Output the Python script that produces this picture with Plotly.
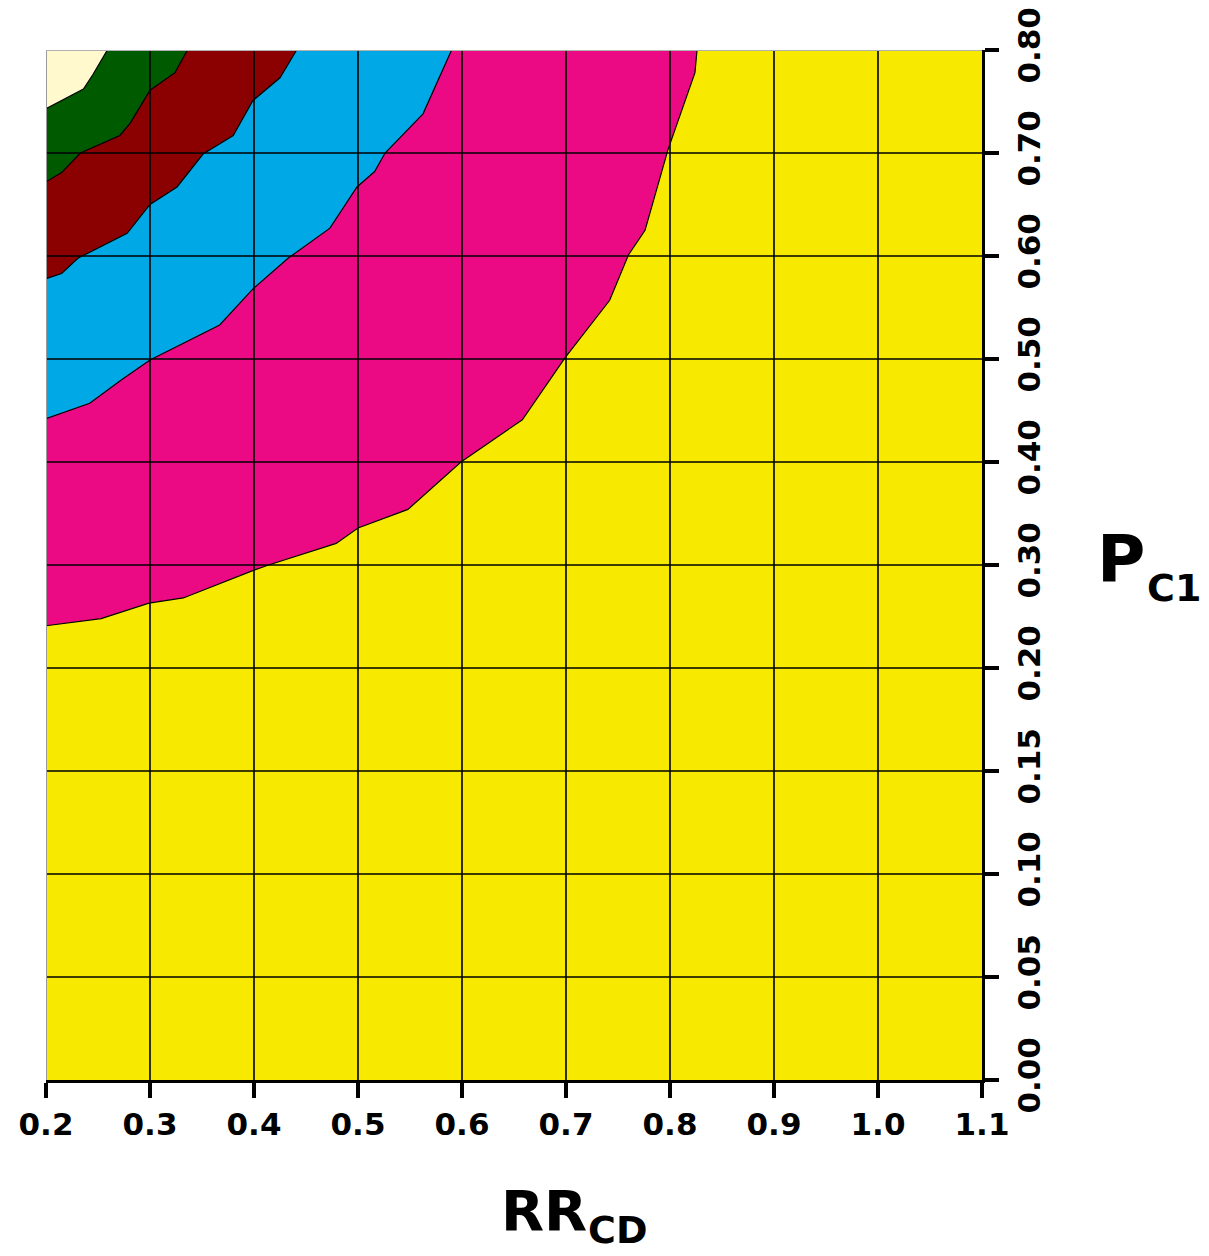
import numpy as np
import plotly.graph_objects as go

# Axis definitions
rr_ticks = [0.2, 0.3, 0.4, 0.5, 0.6, 0.7, 0.8, 0.9, 1.0, 1.1]
rr_labels = ["0.2", "0.3", "0.4", "0.5", "0.6", "0.7", "0.8", "0.9", "1.0", "1.1"]
p_ticks = [0.00, 0.05, 0.10, 0.15, 0.20, 0.30, 0.40, 0.50, 0.60, 0.70, 0.80]
p_labels = ["0.00", "0.05", "0.10", "0.15", "0.20", "0.30", "0.40", "0.50", "0.60", "0.70", "0.80"]

# Region boundaries (RR_CD, P_C1), from the lowest band upward
rr_b1 = [0.200, 0.253, 0.299, 0.332, 0.400, 0.414, 0.479, 0.500, 0.548, 0.599,
         0.658, 0.699, 0.742, 0.760, 0.776, 0.798, 0.824, 0.826]
p_b1 = [0.241, 0.248, 0.263, 0.268, 0.295, 0.300, 0.321, 0.336, 0.354, 0.400,
        0.441, 0.501, 0.557, 0.601, 0.625, 0.703, 0.778, 0.800]

rr_b2 = [0.200, 0.242, 0.273, 0.300, 0.367, 0.399, 0.433, 0.473, 0.499, 0.516,
         0.526, 0.5625, 0.590]
p_b2 = [0.442, 0.457, 0.480, 0.499, 0.533, 0.568, 0.598, 0.627, 0.667, 0.682,
        0.700, 0.738, 0.800]

rr_b3 = [0.200, 0.215, 0.231, 0.278, 0.300, 0.326, 0.351, 0.380, 0.399, 0.425, 0.441]
p_b3 = [0.578, 0.583, 0.598, 0.622, 0.650, 0.667, 0.699, 0.717, 0.751, 0.773, 0.800]

rr_b4 = [0.200, 0.215, 0.233, 0.271, 0.281, 0.300, 0.324, 0.336]
p_b4 = [0.672, 0.681, 0.700, 0.717, 0.729, 0.761, 0.778, 0.800]

rr_b5 = [0.200, 0.236, 0.245, 0.259]
p_b5 = [0.743, 0.762, 0.776, 0.800]

base_color = "#F8E900"
band_colors = ["#EC0A84", "#00A8E6", "#8B0000", "#005A00", "#FFF9CD"]

# The P_C1 axis is evenly spaced by tick, so map values onto tick positions
p_pos = np.arange(len(p_ticks), dtype=float)


def to_pos(p):
    return np.interp(p, p_ticks, p_pos)


boundaries = [(rr_b1, p_b1), (rr_b2, p_b2), (rr_b3, p_b3), (rr_b4, p_b4), (rr_b5, p_b5)]

fig = go.Figure()
top = p_pos[-1]
left = rr_ticks[0]

# Filled bands: each band covers everything above its boundary toward the top-left corner
for (xs, ps), col in zip(boundaries, band_colors):
    ys = list(to_pos(ps))
    fx = list(xs) + [left, left]
    fy = ys + [top, ys[0]]
    fig.add_trace(go.Scatter(x=fx, y=fy, mode="lines", fill="toself",
                             fillcolor=col, line=dict(width=0, color=col),
                             hoverinfo="skip", showlegend=False))

# Contour outlines
for xs, ps in boundaries:
    fig.add_trace(go.Scatter(x=xs, y=to_pos(ps), mode="lines",
                             line=dict(color="black", width=1.2),
                             hoverinfo="skip", showlegend=False))

shapes = []
# Grid drawn over the filled bands
for xv in rr_ticks[1:-1]:
    shapes.append(dict(type="line", xref="x", yref="y", x0=xv, x1=xv, y0=0, y1=top,
                       line=dict(color="black", width=1.6), layer="above"))
for yv in p_pos[1:-1]:
    shapes.append(dict(type="line", xref="x", yref="y", x0=rr_ticks[0], x1=rr_ticks[-1],
                       y0=yv, y1=yv, line=dict(color="black", width=1.6), layer="above"))
# Light frame on the left and top edges
shapes.append(dict(type="line", xref="x", yref="y", x0=left, x1=left, y0=0, y1=top,
                   line=dict(color="#9a9a9a", width=2), layer="above"))
shapes.append(dict(type="line", xref="x", yref="y", x0=left, x1=rr_ticks[-1], y0=top, y1=top,
                   line=dict(color="#b0b0b0", width=2), layer="above"))

font_family = "'DejaVu Sans', sans-serif"


def label(text, x, y, size, xanchor):
    return dict(text=text, xref="paper", yref="paper", x=x, y=y,
                xanchor=xanchor, yanchor="middle", showarrow=False, borderpad=0,
                font=dict(family=font_family, size=size, color="black", weight="bold"))


fig.update_layout(
    width=1209, height=1256,
    margin=dict(l=46, r=227, t=50, b=176, autoexpand=False),
    paper_bgcolor="white",
    plot_bgcolor=base_color,
    shapes=shapes,
    xaxis=dict(range=[rr_ticks[0], rr_ticks[-1]], tickvals=rr_ticks, ticktext=rr_labels,
               showgrid=False, zeroline=False, showline=True, linecolor="black", linewidth=3,
               ticks="outside", ticklen=15, tickwidth=4, tickcolor="black",
               tickfont=dict(family=font_family, size=31, color="black", weight="bold"),
               layer="above traces", automargin=False),
    yaxis=dict(range=[0, top], tickvals=list(p_pos), ticktext=p_labels, side="right",
               showgrid=False, zeroline=False, showline=True, linecolor="black", linewidth=3,
               ticks="outside", ticklen=14, tickwidth=4, tickcolor="black", tickangle=-90,
               ticklabelstandoff=4,
               tickfont=dict(family=font_family, size=31, color="black", weight="bold"),
               layer="above traces", automargin=False),
    annotations=[
        # RR with subscript CD
        label("RR", 0.579, -0.127, 56, "right"),
        label("CD", 0.578, -0.146, 38, "left"),
        # P with subscript C1
        label("P", 1.175, 0.505, 66, "right"),
        label("C1", 1.175, 0.478, 38, "left"),
    ],
)

fig.write_html("out.html")
